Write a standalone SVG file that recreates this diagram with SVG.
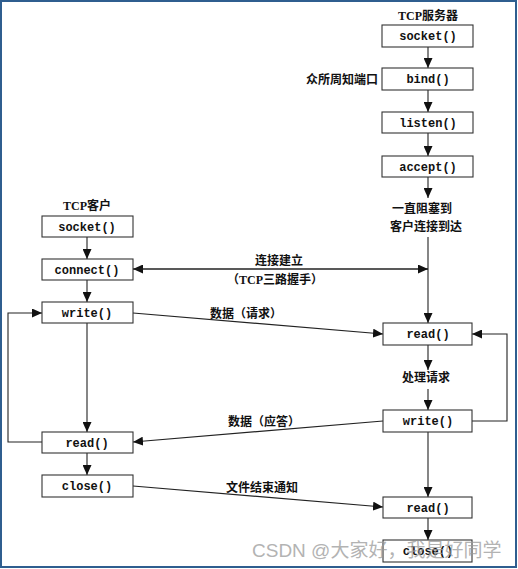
<svg xmlns="http://www.w3.org/2000/svg" width="518" height="569" viewBox="0 0 518 569">
<style>
.box rect{fill:#fff;stroke:#333;stroke-width:1.1}
.box text{font-family:"Liberation Mono",monospace;font-weight:bold;font-size:12px;fill:#111;text-anchor:middle}
.lbl{font-family:"Liberation Serif","Noto Sans CJK SC",serif;font-weight:bold;font-size:12px;fill:#111}
.c{text-anchor:middle}
.e{text-anchor:end}
#connectors path,#connectors line{fill:none;stroke:#222;stroke-width:1.1}
.wm{font-family:"Liberation Sans","Noto Sans CJK SC",sans-serif;font-size:19px;fill:#9a9a9a;opacity:0.75}
</style>
<defs>
<marker id="ah" markerUnits="userSpaceOnUse" markerWidth="10" markerHeight="9" refX="10" refY="4.5" orient="auto">
<path d="M0,0 L10,4.5 L0,9 z" fill="#111"/>
</marker>
</defs>
<rect x="1" y="1" width="515" height="566" fill="#fff" stroke="#2f5e8f" stroke-width="2"/>

<g id="labels">
<text class="lbl c" x="428" y="20">TCP服务器</text>
<text class="lbl e" x="378" y="84">众所周知端口</text>
<text class="lbl" x="392" y="213">一直阻塞到</text>
<text class="lbl" x="390" y="231">客户连接到达</text>
<text class="lbl c" x="87" y="210">TCP客户</text>
<text class="lbl c" x="279" y="265">连接建立</text>
<text class="lbl c" x="275" y="284">（TCP三路握手）</text>
<text class="lbl c" x="246" y="318">数据（请求）</text>
<text class="lbl c" x="426" y="382">处理请求</text>
<text class="lbl c" x="264" y="426">数据（应答）</text>
<text class="lbl c" x="262" y="492">文件结束通知</text>
</g>

<g id="connectors">
<line x1="428" y1="47" x2="428" y2="68" marker-end="url(#ah)"/>
<line x1="428" y1="90" x2="428" y2="112" marker-end="url(#ah)"/>
<line x1="428" y1="133" x2="428" y2="156" marker-end="url(#ah)"/>
<line x1="428" y1="177" x2="428" y2="198" marker-end="url(#ah)"/>
<line x1="428" y1="237" x2="428" y2="323" marker-end="url(#ah)"/>
<line x1="428" y1="345" x2="428" y2="370" marker-end="url(#ah)"/>
<line x1="428" y1="389" x2="428" y2="410" marker-end="url(#ah)"/>
<line x1="428" y1="432" x2="428" y2="497" marker-end="url(#ah)"/>
<line x1="428" y1="518" x2="428" y2="540" marker-end="url(#ah)"/>
<path d="M472,421 H507 V334 H472" marker-end="url(#ah)"/>
<line x1="87" y1="237" x2="87" y2="259" marker-end="url(#ah)"/>
<line x1="87" y1="280" x2="87" y2="302" marker-end="url(#ah)"/>
<line x1="87" y1="323" x2="87" y2="432" marker-end="url(#ah)"/>
<line x1="87" y1="453" x2="87" y2="475" marker-end="url(#ah)"/>
<path d="M42,442 H8 V313 H42" marker-end="url(#ah)"/>
<line x1="428" y1="269" x2="133" y2="269" marker-end="url(#ah)"/>
<line x1="133" y1="269" x2="428" y2="269" marker-end="url(#ah)"/>
<line x1="133" y1="313" x2="383" y2="334" marker-end="url(#ah)"/>
<line x1="383" y1="421" x2="133" y2="442" marker-end="url(#ah)"/>
<line x1="133" y1="486" x2="383" y2="507" marker-end="url(#ah)"/>
</g>

<g id="s_socket" class="box"><rect x="382" y="25" width="91" height="22"/><text x="428" y="40">socket()</text></g>
<g id="s_bind" class="box"><rect x="382" y="68" width="91" height="22"/><text x="428" y="83">bind()</text></g>
<g id="s_listen" class="box"><rect x="382" y="112" width="91" height="21"/><text x="428" y="127">listen()</text></g>
<g id="s_accept" class="box"><rect x="382" y="156" width="91" height="21"/><text x="428" y="171">accept()</text></g>
<g id="s_read" class="box"><rect x="383" y="323" width="89" height="22"/><text x="428" y="338">read()</text></g>
<g id="s_write" class="box"><rect x="383" y="410" width="89" height="22"/><text x="428" y="425">write()</text></g>
<g id="s_read2" class="box"><rect x="383" y="497" width="89" height="21"/><text x="428" y="512">read()</text></g>
<g id="s_close" class="box"><rect x="383" y="540" width="89" height="22"/><text x="428" y="555">close()</text></g>

<g id="c_socket" class="box"><rect x="42" y="216" width="91" height="21"/><text x="87" y="231">socket()</text></g>
<g id="c_connect" class="box"><rect x="42" y="259" width="91" height="21"/><text x="87" y="274">connect()</text></g>
<g id="c_write" class="box"><rect x="42" y="302" width="91" height="21"/><text x="87" y="317">write()</text></g>
<g id="c_read" class="box"><rect x="42" y="432" width="91" height="21"/><text x="87" y="447">read()</text></g>
<g id="c_close" class="box"><rect x="42" y="475" width="91" height="22"/><text x="87" y="490">close()</text></g>

<text class="wm" x="252" y="557">CSDN @大家好，我是好同学</text>
</svg>
